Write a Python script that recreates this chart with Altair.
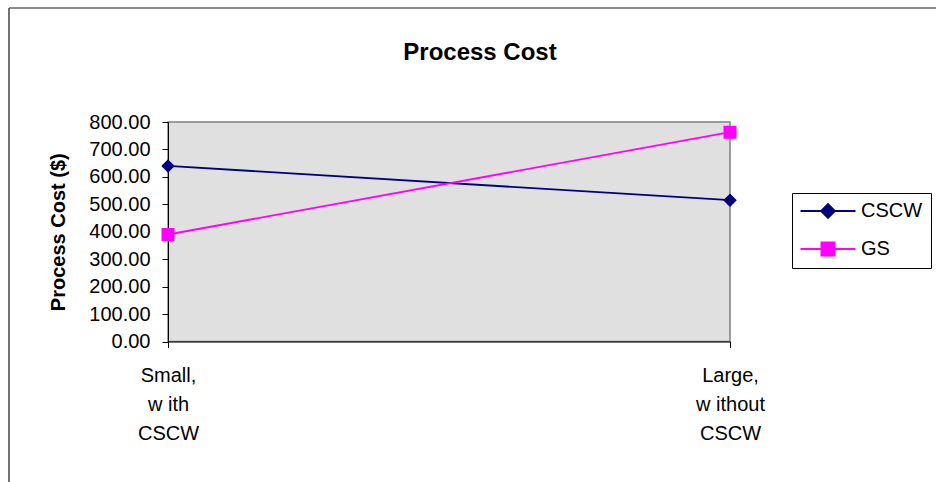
import altair as alt
import pandas as pd

# ---- data ----
categories = ["Small,|w ith|CSCW", "Large,|w ithout|CSCW"]
series_names = ["CSCW", "GS"]
cscw_values = [640, 515]
gs_values = [390, 763]
y_ticks = [0, 100, 200, 300, 400, 500, 600, 700, 800]

series_colors = ["#000080", "#FF00FF"]
# marker shapes (with a line through them for the legend key)
series_shapes = [
    "M-5.5,0H5.5M0,-1.35L1.35,0L0,1.35L-1.35,0Z",
    "M-5.5,0H5.5M-1.3,-1.3H1.3V1.3H-1.3Z",
]

rows = []
for name, vals in zip(series_names, [cscw_values, gs_values]):
    for cat, v in zip(categories, vals):
        rows.append({"category": cat, "series": name, "cost": v})
df = pd.DataFrame(rows)

FONT = "Liberation Sans"

x_enc = alt.X(
    "category:N",
    sort=categories,
    scale=alt.Scale(type="point", padding=0),
    axis=alt.Axis(
        title=None,
        labelAngle=0,
        labelExpr="split(datum.label, '|')",
        labelFont=FONT,
        labelFontSize=20,
        labelLineHeight=29,
        labelColor="black",
        labelPadding=18,
        tickSize=6,
        tickColor="black",
        domainColor="black",
        grid=False,
    ),
)
y_enc = alt.Y(
    "cost:Q",
    scale=alt.Scale(domain=[0, 800], nice=False),
    axis=alt.Axis(
        values=y_ticks,
        format=".2f",
        title="Process Cost ($)",
        titleFont=FONT,
        titleFontSize=20,
        titleFontWeight="bold",
        titleColor="black",
        titlePadding=20,
        labelFont=FONT,
        labelFontSize=20,
        labelColor="black",
        labelPadding=12,
        tickSize=6,
        tickColor="black",
        domainColor="black",
        grid=False,
    ),
)
color_enc = alt.Color(
    "series:N",
    sort=series_names,
    scale=alt.Scale(domain=series_names, range=series_colors),
    legend=alt.Legend(
        title=None,
        orient="none",
        legendX=624,
        legendY=71,
        strokeColor="black",
        fillColor="white",
        padding=8,
        symbolSize=100,
        symbolStrokeWidth=2,
        symbolOffset=18,
        labelOffset=23,
        labelFont=FONT,
        labelFontSize=20,
        labelColor="black",
        rowPadding=16,
    ),
)
shape_enc = alt.Shape(
    "series:N",
    sort=series_names,
    scale=alt.Scale(domain=series_names, range=series_shapes),
    legend=alt.Legend(
        title=None,
        orient="none",
        legendX=624,
        legendY=71,
    ),
)

lines = alt.Chart(df).mark_line(strokeWidth=1.8).encode(
    x=x_enc, y=y_enc, color=color_enc
)
points = alt.Chart(df).mark_point(filled=True, size=100, opacity=1).encode(
    x=x_enc, y=y_enc, color=color_enc, shape=shape_enc
)

frame_df = pd.DataFrame({"k": [0]})
frame_top = alt.Chart(frame_df).mark_rule(color="#666666", strokeWidth=1.5).encode(
    x=alt.value(-159), x2=alt.value(800), y=alt.value(-114)
)
frame_left = alt.Chart(frame_df).mark_rule(color="#444444", strokeWidth=1.5).encode(
    x=alt.value(-159), y=alt.value(-114), y2=alt.value(400)
)

chart = (
    alt.layer(frame_top, frame_left, lines, points)
    .properties(
        width=562,
        height=219.5,
        background="white",
        autosize=alt.AutoSizeParams(type="none"),
        padding={"left": 168, "top": 122, "right": 206, "bottom": 140},
        title=alt.TitleParams(
            "Process Cost",
            font=FONT,
            fontSize=24,
            fontWeight="bold",
            color="black",
            anchor="middle",
            frame="group",
            dx=31,
            offset=-77,
            baseline="alphabetic",
        ),
    )
    .configure_view(fill="#E0E0E0", stroke="#808080", strokeWidth=1.5)
)

chart.save("out.html", embed_options={"renderer": "svg", "actions": False})
